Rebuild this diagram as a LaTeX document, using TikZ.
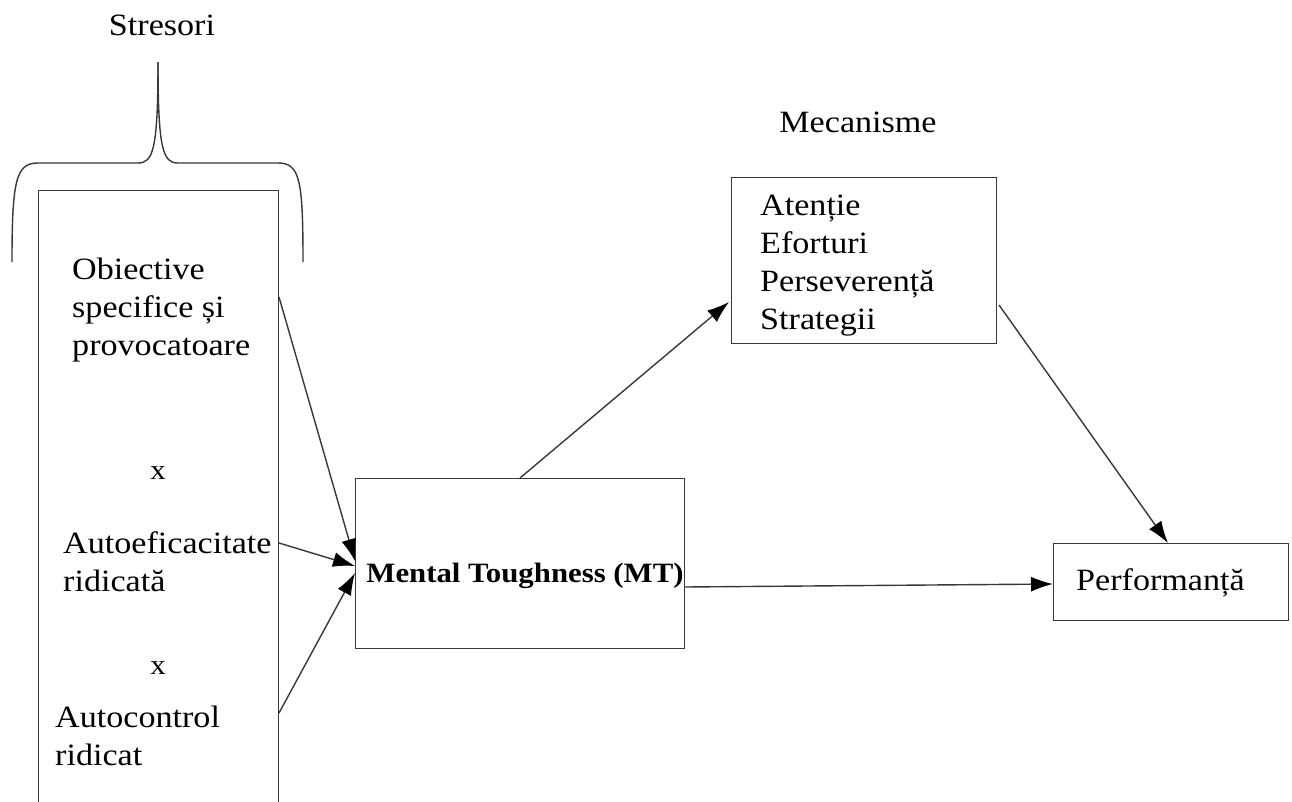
\documentclass[tikz,border=0pt]{standalone}
\usepackage{fontspec}
\setmainfont[FakeStretch=1.1]{Liberation Serif}
\usetikzlibrary{arrows.meta,calc}
\begin{document}
\begin{tikzpicture}[x=1pt,y=-1pt,
  line/.style={draw=black!78, line width=1.4pt},
  arr/.style={line, -{Latex[length=22pt,width=15pt,color=black]}},
  box/.style={draw=black!78, line width=1.4pt, rectangle, inner sep=0pt},
  txt/.style={font=\fontsize{31}{38}\selectfont, inner sep=0pt, anchor=west, align=left}]
\useasboundingbox (0,0) rectangle (1292,801);
\clip (0,0) rectangle (1292,801);
% Stresori brace
\node[font=\fontsize{31}{38}\selectfont, inner sep=0pt] (stresori) at (162,25) {Stresori};
\draw[line] (12,262) .. controls (12,180) and (16,163) .. (38,163) -- (138,163)
  .. controls (153,163) and (158,150) .. (158,62);
\draw[line] (158,62) .. controls (158,150) and (163,163) .. (178,163) -- (278,163)
  .. controls (300,163) and (303,180) .. (303,262);
% left (open) box
\node[box, minimum width=240pt, minimum height=660pt, anchor=north west] (left) at (38,190) {};
\coordinate (s1) at (279,297);
\coordinate (s2) at (279,543);
\coordinate (s3) at (279,713);
\node[txt] (t1) at (72,310) {Obiective\\specifice și\\provocatoare};
\node[font=\fontsize{28}{34}\selectfont, inner sep=0pt] (x1) at (158,473) {x};
\node[txt] (t2) at (63,562) {Autoeficacitate\\ridicată};
\node[font=\fontsize{28}{34}\selectfont, inner sep=0pt] (x2) at (158,668) {x};
\node[txt] (t3) at (55,736) {Autocontrol\\ridicat};
% MT box
\node[box, minimum width=329pt, minimum height=170pt, anchor=north west] (mt) at (355,478) {};
\node[font=\fontsize{28}{34}\selectfont\bfseries, inner sep=0pt] (mtl) at (525,576) {Mental Toughness (MT)};
\coordinate (m1) at (355,561);
\coordinate (m2) at (355,566);
\coordinate (m3) at (355,573);
\draw[arr] (s1) -- (m1);
\draw[arr] (s2) -- (m2);
\draw[arr] (s3) -- (m3);
% Mecanisme
\node[font=\fontsize{31}{38}\selectfont, inner sep=0pt] (mec) at (858,122) {Mecanisme};
\node[box, minimum width=265pt, minimum height=166pt, anchor=north west] (mb) at (731,177) {};
\node[txt] (mbt) at (760,266) {Atenție\\Eforturi\\Perseverență\\Strategii};
\coordinate (mtop) at (520,478);
\coordinate (mbin) at (729,302);
\draw[arr] (mtop) -- (mbin);
% Performanta
\node[box, minimum width=235pt, minimum height=77pt, anchor=north west] (perf) at (1053,543) {};
\node[txt] (perft) at (1076,583) {Performanță};
\coordinate (mbout) at (999,305);
\coordinate (pin) at (1168,543);
\draw[arr] (mbout) -- (pin);
\coordinate (mtout) at (684,587);
\coordinate (pw) at (1053,584);
\draw[arr] (mtout) -- (pw);
\end{tikzpicture}
\end{document}
